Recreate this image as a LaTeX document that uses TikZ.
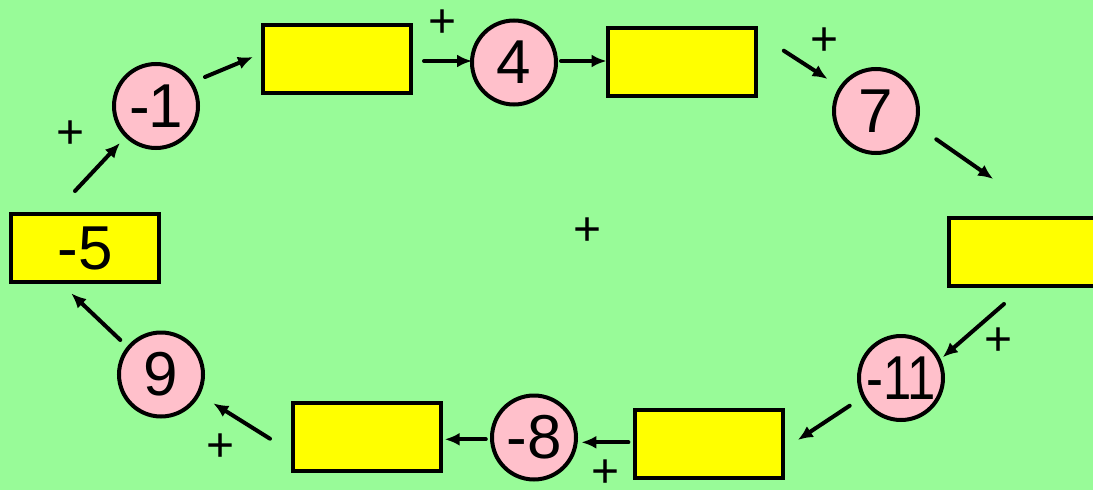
\documentclass[tikz,border=0pt]{standalone}
\usepackage{fontspec}
\usepackage{graphicx}
\setmainfont{Liberation Sans}
\usetikzlibrary{calc,arrows.meta}
\definecolor{bg}{RGB}{152,251,152}
\definecolor{pinkc}{RGB}{255,192,203}
\definecolor{yel}{RGB}{255,255,0}
\begin{document}
\begin{tikzpicture}[x=1pt,y=-1pt,
  box/.style={draw=black,line width=4pt,fill=yel,minimum width=148pt,minimum height=68pt,inner sep=0pt,font=\fontsize{62}{62}\selectfont},
  num/.style={circle,draw=black,line width=4pt,fill=pinkc,minimum size=84pt,inner sep=0pt,font=\fontsize{62}{62}\selectfont},
  arr/.style={line width=4pt,line cap=round,-{Latex[length=15pt,width=13pt]}},
  plus/.style={font=\fontsize{48}{48}\selectfont,inner sep=0pt}]
\fill[bg] (0,0) rectangle (1093,490);
\useasboundingbox (0,0) rectangle (1093,490);
% nodes
\node[box] (r5) at (85,248) {-5};
\node[num] (m1) at (156,106) {\makebox[0pt]{-\kern-2pt1}};
\node[box] (r1) at (337,59) {};
\node[num] (m4) at (514,62.5) {\makebox[0pt]{4}};
\node[box] (r2) at (681.5,62) {};
\node[num] (m7) at (876,111) {\makebox[0pt]{7}};
\node[box] (r3) at (1023,252) {};
\node[num] (m11) at (901,378) {\makebox[0pt]{\scalebox{0.82}[1]{-11}}};
\node[box] (r4) at (709.4,443.5) {};
\node[num] (m8) at (534,437.5) {\makebox[0pt]{-8}};
\node[box] (r6) at (366.8,437) {};
\node[num] (m9) at (161,374.5) {\makebox[0pt]{9}};
% connectors
\draw[arr] ($(r5)+(-10,-57)$) -- ($(m1)+(-36,37)$);
\draw[arr] ($(m1)+(49,-29)$) -- ($(r1)+(-84,-2)$);
\draw[arr] ($(r1)+(87,2)$) -- ($(m4)+(-42,-1.5)$);
\draw[arr] ($(m4)+(47,-1.5)$) -- ($(r2)+(-75,-1)$);
\draw[arr] ($(r2)+(102.3,-11.3)$) -- ($(m7)+(-48.4,-32)$);
\draw[arr] ($(m7)+(60.3,28.3)$) -- ($(r3)+(-29.8,-73)$);
\draw[arr] ($(r3)+(-19,52)$) -- ($(m11)+(41.7,-20.7)$);
\draw[arr] ($(m11)+(-51.3,27.7)$) -- ($(r4)+(88.4,-3.5)$);
\draw[arr] ($(r4)+(-81,-1.2)$) -- ($(m8)+(47.4,4.8)$);
\draw[arr] ($(m8)+(-48.2,1.8)$) -- ($(r6)+(77.9,2.3)$);
\draw[arr] ($(r6)+(-96.8,1.7)$) -- ($(m9)+(52.3,28.8)$);
\draw[arr] ($(m9)+(-40.7,-34.5)$) -- ($(r5)+(-13.8,45.3)$);
% plus labels
\node[plus] (p1) at (443,24) {+};
\node[plus] (p2) at (71,135) {+};
\node[plus] (p3) at (824.8,42) {+};
\node[plus] (p4) at (587.4,232) {+};
\node[plus] (p5) at (998.4,341.7) {+};
\node[plus] (p6) at (605.6,473.3) {+};
\node[plus] (p7) at (220.3,447.3) {+};
\end{tikzpicture}
\end{document}
